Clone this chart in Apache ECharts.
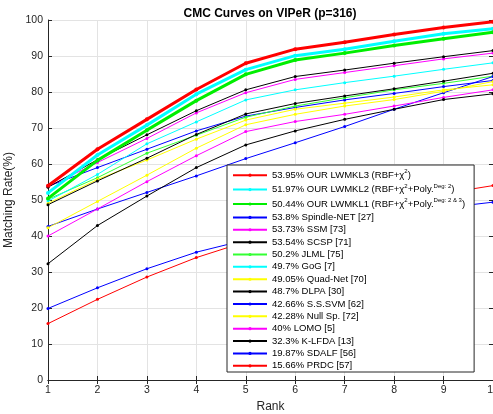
<!DOCTYPE html>
<html>
<head>
<meta charset="utf-8">
<script src="https://cdn.jsdelivr.net/npm/echarts@6/dist/echarts.min.js"></script>
<style>html,body{margin:0;padding:0;background:#fff;}#c{width:493px;height:414px;}</style>
</head>
<body>
<div id="c"></div>
<script>
// ---- data ----
var ranks = [1, 2, 3, 4, 5, 6, 7, 8, 9, 10];
var seriesNames = [
  '53.95% OUR LWMKL3 (RBF+χ2)',
  '51.97% OUR LWMKL2 (RBF+χ2+Poly.Deg: 2)',
  '50.44% OUR LWMKL1 (RBF+χ2+Poly.Deg: 2 & 3)',
  '53.8% Spindle-NET [27]',
  '53.73% SSM [73]',
  '53.54% SCSP [71]',
  '50.2% JLML [75]',
  '49.7% GoG [7]',
  '49.05% Quad-Net [70]',
  '48.7% DLPA [30]',
  '42.66% S.S.SVM [62]',
  '42.28% Null Sp. [72]',
  '40% LOMO [5]',
  '32.3% K-LFDA [13]',
  '19.87% SDALF [56]',
  '15.66% PRDC [57]'
];
var lwmkl3   = [53.95, 64.1, 72.4, 80.7, 88.0, 91.9, 93.8, 96.0, 97.9, 99.5];
var lwmkl2   = [51.97, 62.5, 70.8, 79.4, 86.2, 90.1, 91.9, 94.1, 96.2, 97.6];
var lwmkl1   = [50.44, 61.0, 69.4, 77.6, 84.9, 88.9, 90.8, 92.9, 94.8, 96.6];
var spindle  = [53.8, 59.0, 64.1, 69.2, 73.3, 75.7, 77.8, 79.6, 81.5, 83.2];
var ssm      = [53.73, 60.4, 67.1, 74.2, 79.8, 83.5, 85.4, 87.3, 89.2, 90.8];
var scsp     = [53.54, 61.2, 68.1, 74.8, 80.6, 84.3, 86.1, 88.0, 89.8, 91.5];
var jlml     = [50.2, 56.2, 63.0, 68.0, 73.0, 76.1, 78.4, 80.6, 82.4, 84.4];
var gog      = [49.7, 57.1, 65.6, 71.7, 77.8, 80.6, 82.6, 84.4, 86.3, 88.1];
var quadnet  = [49.05, 55.7, 61.1, 66.9, 72.2, 75.2, 76.9, 78.6, 80.6, 82.0];
var dlpa     = [48.7, 55.3, 61.6, 68.2, 73.9, 76.8, 78.9, 80.9, 83.0, 85.2];
var sssvm    = [42.66, 47.5, 52.1, 56.7, 61.5, 65.9, 70.4, 75.2, 79.8, 84.3];
var nullsp   = [42.28, 49.6, 56.9, 64.4, 70.9, 73.8, 76.1, 77.9, 80.2, 82.9];
var lomo     = [40.0, 47.5, 55.1, 62.3, 69.0, 71.8, 73.8, 76.1, 78.5, 80.6];
var klfda    = [32.3, 42.9, 51.1, 59.0, 65.3, 69.2, 72.4, 75.2, 77.9, 79.5];
var sdalf    = [19.87, 25.6, 30.9, 35.5, 38.9, 41.5, 44.0, 46.0, 47.8, 49.4];
var prdc     = [15.66, 22.4, 28.6, 34.0, 38.4, 42.5, 46.0, 49.0, 51.8, 54.0];
var allValues = [lwmkl3, lwmkl2, lwmkl1, spindle, ssm, scsp, jlml, gog, quadnet, dlpa, sssvm, nullsp, lomo, klfda, sdalf, prdc];
var yTicks = [0, 10, 20, 30, 40, 50, 60, 70, 80, 90, 100];

// ---- styles ----
var colors = ['#ff0000', '#00ffff', '#00ee00', '#0000ff', '#ff00ff', '#000000', '#33ff33', '#00ffff',
              '#ffff00', '#000000', '#0000ff', '#ffff00', '#ff00ff', '#000000', '#0000ff', '#ff0000'];
var widths = [3, 3, 3, 1, 1, 1, 1, 1, 1, 1, 1, 1, 1, 1, 1, 1];
var richLabels = {};
richLabels[seriesNames[0]] = '{r1|53.95% OUR LWMKL3 (RBF+χ}{s1|2}{r1|)}';
richLabels[seriesNames[1]] = '{r1|51.97% OUR LWMKL2 (RBF+χ}{s1|2}{r1|+Poly.}{s1|Deg: 2}{r1|)}';
richLabels[seriesNames[2]] = '{r1|50.44% OUR LWMKL1 (RBF+χ}{s1|2}{r1|+Poly.}{s1|Deg: 2 & 3}{r1|)}';

var font = 'Liberation Sans, Arial, Helvetica, sans-serif';
var series = seriesNames.map(function (n, i) {
  return {
    name: n,
    type: 'line',
    data: ranks.map(function (r, k) { return [r, allValues[i][k]]; }),
    symbol: 'circle',
    symbolSize: widths[i] > 1 ? 4 : 3,
    showSymbol: true,
    z: widths[i] > 1 ? 4 : 2,
    lineStyle: { color: colors[i], width: widths[i] },
    itemStyle: { color: colors[i] },
    emphasis: { disabled: true },
    animation: false
  };
});

var axisCommon = {
  axisLine: { show: true, lineStyle: { color: '#262626', width: 1 } },
  axisTick: { show: true, inside: true, length: 4, lineStyle: { color: '#262626' } }
};

var chart = echarts.init(document.getElementById('c'), null, { renderer: 'canvas' });
chart.setOption({
  backgroundColor: '#ffffff',
  animation: false,
  title: {
    text: 'CMC Curves on VIPeR (p=316)',
    left: 265, top: 3, textAlign: 'center',
    textStyle: { fontFamily: font, fontSize: 12, fontWeight: 'bold', color: '#000' }
  },
  grid: { left: 48, right: 0, top: 20, bottom: 34, containLabel: false, outerBoundsMode: 'none' },
  xAxis: [
    Object.assign({
      type: 'value', min: 1, max: 10, interval: 1, position: 'bottom',
      name: 'Rank', nameLocation: 'middle', nameGap: 18,
      nameTextStyle: { fontFamily: font, fontSize: 12, color: '#262626' },
      axisLabel: { fontFamily: font, fontSize: 10.5, color: '#262626', margin: 5 },
      splitLine: { show: true, lineStyle: { color: '#e3e3e3', width: 1 } }
    }, axisCommon),
    Object.assign({
      type: 'value', min: 1, max: 10, interval: 1, position: 'top',
      axisLabel: { show: false }, splitLine: { show: false }
    }, axisCommon)
  ],
  yAxis: [
    Object.assign({
      type: 'value', min: yTicks[0], max: yTicks[yTicks.length - 1], interval: 10, position: 'left',
      name: 'Matching Rate(%)', nameLocation: 'middle', nameGap: 27,
      nameTextStyle: { fontFamily: font, fontSize: 12, color: '#262626' },
      axisLabel: { fontFamily: font, fontSize: 10.5, color: '#262626', margin: 5 },
      splitLine: { show: true, lineStyle: { color: '#e3e3e3', width: 1 } }
    }, axisCommon),
    Object.assign({
      type: 'value', min: 0, max: 100, interval: 10, position: 'right',
      axisLabel: { show: false }, splitLine: { show: false }
    }, axisCommon)
  ],
  legend: {
    orient: 'vertical',
    left: 227, top: 165,
    padding: [3, 9, 0, 5],
    itemGap: 0,
    itemWidth: 34,
    itemHeight: 4,
    backgroundColor: '#ffffff',
    borderColor: '#262626',
    borderWidth: 1,
    borderRadius: 0,
    selectedMode: false,
    data: seriesNames,
    formatter: function (name) { return richLabels[name] || name; },
    textStyle: {
      fontFamily: font, fontSize: 9.5, color: '#000', lineHeight: 12.37,
      rich: {
        r1: { fontFamily: font, fontSize: 9.5, color: '#000', lineHeight: 14.4, verticalAlign: 'middle' },
        s1: { fontFamily: font, fontSize: 6, color: '#000', lineHeight: 6, verticalAlign: 'middle', padding: [0, 0, 7, 0] }
      }
    }
  },
  series: series
});
</script>
</body>
</html>
